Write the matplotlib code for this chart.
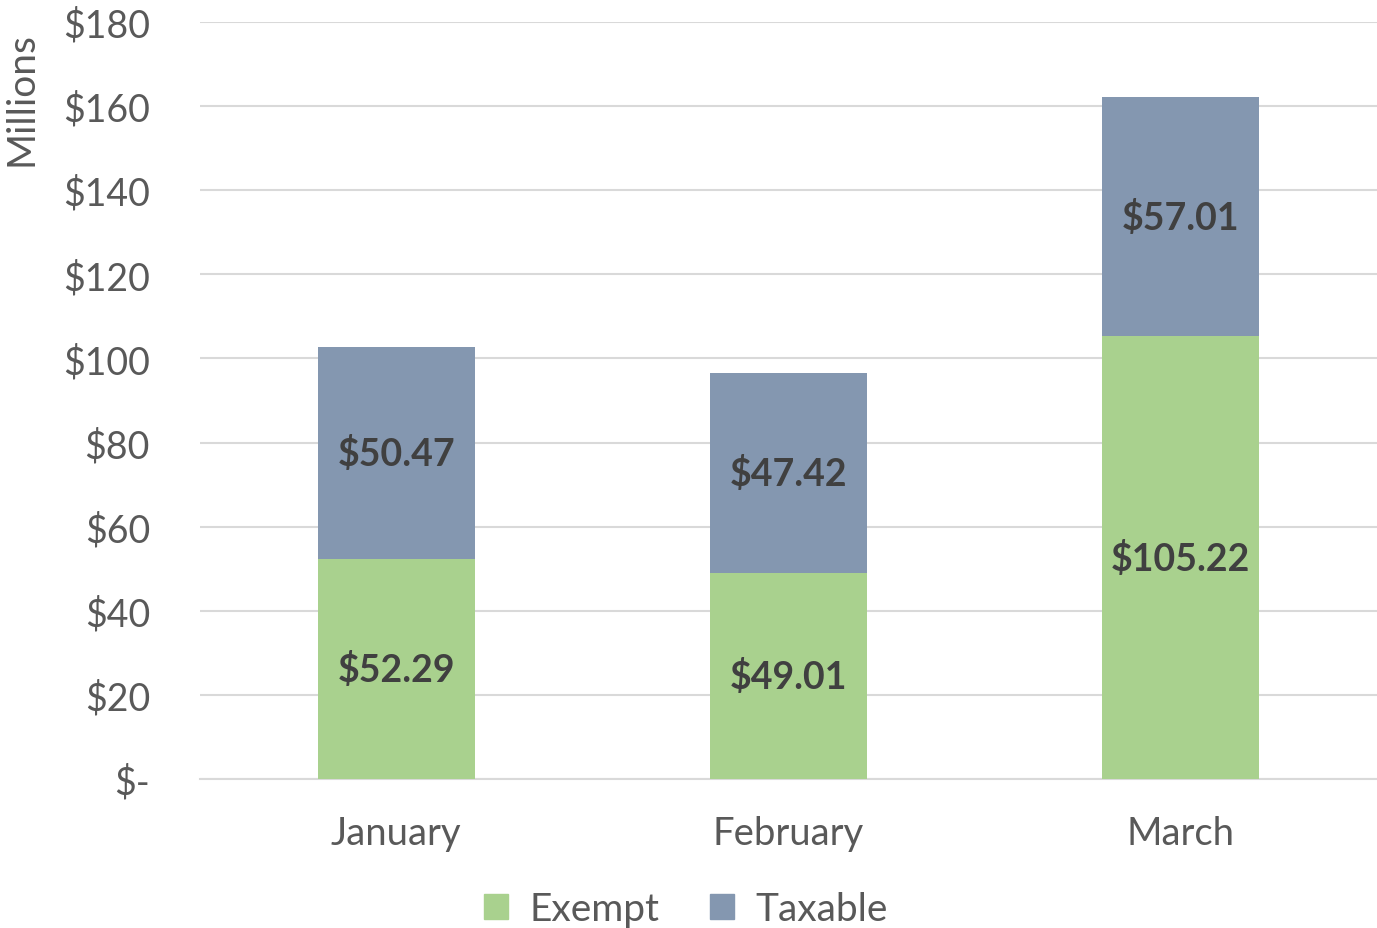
import matplotlib.pyplot as plt
from matplotlib.patches import Patch

months = ['January', 'February', 'March']
exempt = [52.29, 49.01, 105.22]
taxable = [50.47, 47.42, 57.01]
y_ticks = [0, 20, 40, 60, 80, 100, 120, 140, 160, 180]

GREEN = '#A9D18E'
BLUE = '#8497B0'
TEXT = '#595959'
LABEL = '#404040'
GRID = '#D9D9D9'

plt.rcParams['font.family'] = ['Lato', 'DejaVu Sans']

fig = plt.figure(figsize=(13.77, 9.29), dpi=100)
ax = fig.add_axes([200 / 1377, 1 - 780 / 929, 1 - 200 / 1377, (780 - 23) / 929])

x = list(range(len(months)))
ax.bar(x, exempt, width=0.4, color=GREEN, zorder=3)
ax.bar(x, taxable, width=0.4, bottom=exempt, color=BLUE, zorder=3)

for i in x:
    ax.text(i, exempt[i] / 2, f'${exempt[i]:.2f}', ha='center', va='center',
            fontsize=27, fontweight='bold', color=LABEL, zorder=4)
    ax.text(i, exempt[i] + taxable[i] / 2, f'${taxable[i]:.2f}', ha='center', va='center',
            fontsize=27, fontweight='bold', color=LABEL, zorder=4)

ax.set_xlim(-0.5, 2.5)
ax.set_ylim(0, 180)
ax.set_yticks(y_ticks)
ax.set_yticklabels(['$-'] + [f'${v}' for v in y_ticks[1:]])
ax.set_xticks(x)
ax.set_xticklabels(months)
ax.tick_params(axis='y', length=0, pad=36, labelsize=27, labelcolor=TEXT)
ax.tick_params(axis='x', length=0, pad=26, labelsize=27.5, labelcolor=TEXT)
ax.grid(axis='y', color=GRID, linewidth=1.5, zorder=0)
for s in ['top', 'right', 'left']:
    ax.spines[s].set_visible(False)
ax.spines['bottom'].set_color(GRID)
ax.spines['bottom'].set_linewidth(1.5)

fig.text(22 / 1377, 1 - 99 / 929, 'Millions', rotation=90, ha='center', va='center',
         fontsize=28, color=TEXT)

handles = [Patch(color=GREEN, label='Exempt'), Patch(color=BLUE, label='Taxable')]
fig.legend(handles=handles, loc='center', bbox_to_anchor=(686 / 1377, 1 - 910 / 929),
           ncol=2, frameon=False, fontsize=28, labelcolor=TEXT,
           handlelength=0.62, handleheight=0.62, handletextpad=0.55, columnspacing=1.3)

fig.savefig('out.png', dpi=100)
